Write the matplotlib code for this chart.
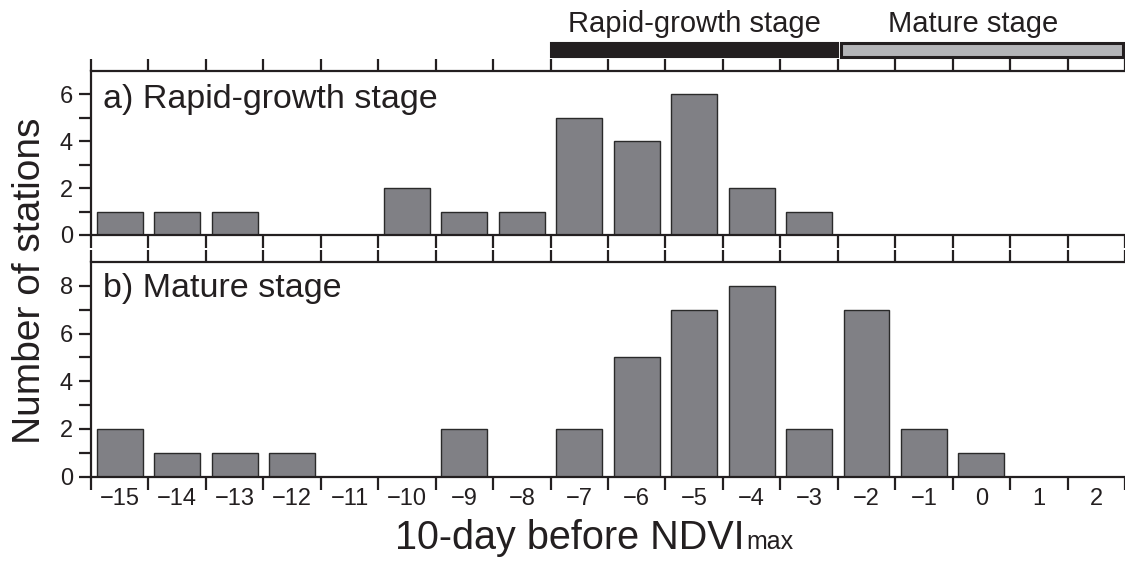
import numpy as np
import matplotlib.pyplot as plt
from matplotlib.patches import Rectangle
import matplotlib.transforms as mtransforms

plt.rcParams['font.family'] = ['Liberation Sans', 'DejaVu Sans']

# 10-day periods before NDVImax
periods = list(range(-15, 3))
# a) rapid-growth stage, number of stations
rapid = [1, 1, 1, 0, 0, 2, 1, 1, 5, 4, 6, 2, 1, 0, 0, 0, 0, 0]
# b) mature stage, number of stations
mature = [2, 1, 1, 1, 0, 0, 2, 0, 2, 5, 7, 8, 2, 7, 2, 1, 0, 0]

panel_labels = ["a) Rapid-growth stage", "b) Mature stage"]
stage_names = ["Rapid-growth stage", "Mature stage"]
stage_spans = [(-7.5, -2.5), (-2.45, 2.5)]

bar_col = '#808085'
edge_col = '#2a2a2a'
ink = '#231f20'

fig = plt.figure(figsize=(11.25, 5.63), dpi=100)
ax1 = fig.add_axes([0.0809, 0.5826, 0.9191, 0.2913])
ax2 = fig.add_axes([0.0809, 0.1533, 0.9191, 0.3813])

x = np.array(periods)
edges = np.arange(periods[0] - 0.5, periods[-1] + 1.0, 1.0)

for ax, vals, ymax, lab, ly in [(ax1, rapid, 7, panel_labels[0], 0.774),
                                (ax2, mature, 9, panel_labels[1], 0.837)]:
    ax.bar(x, vals, width=0.8, color=bar_col, edgecolor=edge_col, linewidth=1.0, zorder=2)
    ax.set_xlim(edges[0], edges[-1])
    ax.set_ylim(0, ymax)
    ax.spines['right'].set_visible(False)
    for s in ['left', 'top', 'bottom']:
        ax.spines[s].set_linewidth(1.6)
        ax.spines[s].set_color(ink)
    ax.set_yticks(np.arange(0, ymax, 2))
    ax.set_yticks(np.arange(1, ymax, 2), minor=True)
    ax.set_xticks(x)
    ax.set_xticks(edges, minor=True)
    ax.tick_params(axis='x', which='major', length=0, labelsize=17, pad=8, colors=ink)
    ax.tick_params(axis='x', which='minor', length=9, width=1.6, direction='out',
                   top=True, bottom=True, colors=ink)
    ax.tick_params(axis='y', which='both', length=9, width=1.6, direction='out',
                   labelsize=17, pad=4, colors=ink)
    trans = mtransforms.blended_transform_factory(ax.transData, ax.transAxes)
    ax.text(-15.3, ly, lab, transform=trans, fontsize=24.5, va='baseline', ha='left', color=ink)

ax2.set_xticklabels([str(p).replace('-', '\u2212') for p in periods])
ax1.set_xticklabels([])

# stage bars above the top panel
trans1 = mtransforms.blended_transform_factory(ax1.transData, ax1.transAxes)
ax1.add_patch(Rectangle((stage_spans[0][0], 1.0835), stage_spans[0][1] - stage_spans[0][0], 0.089,
                        transform=trans1, facecolor=ink, edgecolor=ink, linewidth=1.5, clip_on=False))
ax1.add_patch(Rectangle((stage_spans[1][0], 1.0835), stage_spans[1][1] - stage_spans[1][0] - 0.03, 0.089,
                        transform=trans1, facecolor='#b4b5b8', edgecolor=ink, linewidth=2.2, clip_on=False))
ax1.text(-5.0, 1.236, stage_names[0], transform=trans1, fontsize=21, ha='center', va='baseline', color=ink)
ax1.text(-0.15, 1.236, stage_names[1], transform=trans1, fontsize=21, ha='center', va='baseline', color=ink)

# axis titles
fig.text(0.0265, 0.5009, "Number of stations", rotation=90, fontsize=28, ha='center', va='center', color=ink)
fig.text(0.662, 0.0249, "10-day before NDVI", fontsize=28.5, ha='right', va='baseline', color=ink)
fig.text(0.6635, 0.0249, "max", fontsize=18, ha='left', va='baseline', color=ink)

fig.savefig('out.png', dpi=100)
